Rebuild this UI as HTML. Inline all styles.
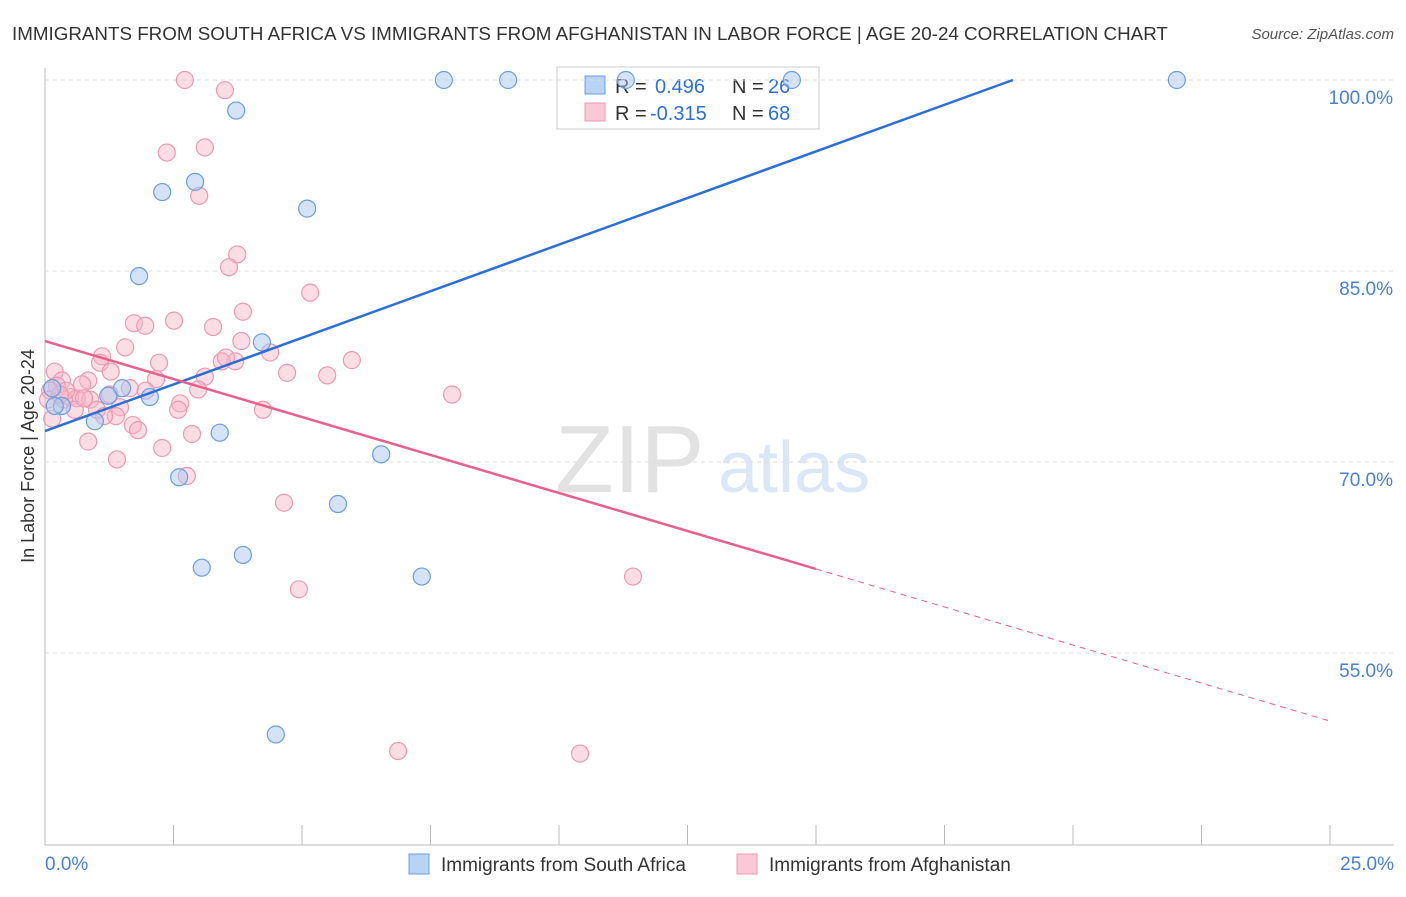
<!DOCTYPE html>
<html><head><meta charset="utf-8"><style>
body{margin:0;background:#fff;font-family:"Liberation Sans",sans-serif}
svg text{font-family:"Liberation Sans",sans-serif}
</style></head><body>
<svg id="c" width="1406" height="892" xmlns="http://www.w3.org/2000/svg">
<text x="12" y="40" font-size="18.8" fill="#333">IMMIGRANTS FROM SOUTH AFRICA VS IMMIGRANTS FROM AFGHANISTAN IN LABOR FORCE | AGE 20-24 CORRELATION CHART</text>
<text x="1394" y="39" font-size="15" fill="#555" text-anchor="end" font-style="italic">Source: ZipAtlas.com</text>
<text x="34" y="456" font-size="18" fill="#333" text-anchor="middle" transform="rotate(-90 34 456)">In Labor Force | Age 20-24</text>
<text x="555" y="492" font-size="96" fill="#e2e2e2" font-family="Liberation Serif">ZIP</text>
<text x="718" y="492" font-size="72" fill="#dbe7f6">atlas</text>
<g>
<rect x="557" y="67" width="262" height="62" fill="#fff" stroke="#ccc"/>
<rect x="585" y="76" width="20" height="18" fill="#b9d3f5" stroke="#6c9ee0"/>
<rect x="585" y="103" width="20" height="18" fill="#fbc8d7" stroke="#eb9ab2"/>
<text x="615" y="93" font-size="20" fill="#333">R =</text>
<text x="655" y="93" font-size="20" fill="#2c6fd6">0.496</text>
<text x="732" y="93" font-size="20" fill="#333">N =</text>
<text x="768" y="93" font-size="20" fill="#2c6fd6">26</text>
<text x="615" y="120" font-size="20" fill="#333">R =</text>
<text x="650" y="120" font-size="20" fill="#2c6fd6">-0.315</text>
<text x="732" y="120" font-size="20" fill="#333">N =</text>
<text x="768" y="120" font-size="20" fill="#2c6fd6">68</text>
</g>
<g id="grid"></g><g id="pts"></g><g id="lines"></g>
<g>
<rect x="409" y="854" width="20" height="20" fill="#b9d3f5" stroke="#6c9ee0"/>
<text x="441" y="871" font-size="19" fill="#333">Immigrants from South Africa</text>
<rect x="737" y="854" width="20" height="20" fill="#fbc8d7" stroke="#eb9ab2"/>
<text x="769" y="871" font-size="19" fill="#333">Immigrants from Afghanistan</text>
</g>
</svg>
<script>
const yTicks=[100,85,70,55];
const xLabels=["0.0%","25.0%"];
const blueX=[7.76,9.01,11.30,14.53,22.02,3.72,2.28,2.92,5.10,1.83,4.22,1.50,2.04,1.23,0.33,0.14,0.97,3.40,6.54,2.61,5.70,3.85,3.05,7.33,4.49,0.19];
const blueY=[100,100,100,100,100,97.6,91.2,92.0,89.9,84.6,79.4,75.8,75.1,75.2,74.4,75.8,73.2,72.3,70.6,68.8,66.7,62.7,61.7,61.0,48.6,74.4];
const pinkX=[2.72,3.50,2.37,3.11,3.00,3.74,3.58,3.85,5.16,1.73,1.95,2.51,3.27,3.82,4.38,5.97,5.49,4.71,2.22,1.56,1.11,1.07,1.28,0.19,3.70,3.44,3.11,2.98,2.16,1.65,0.84,0.72,0.33,0.23,0.10,0.49,0.62,0.88,1.01,1.46,4.24,2.63,2.59,1.38,1.15,1.71,1.81,0.14,2.86,0.84,2.28,1.40,2.76,4.65,4.94,11.44,7.92,6.87,10.41,0.37,0.58,1.26,0.06,0.41,0.76,1.96,3.52,0.29];
const pinkY=[100,99.2,94.3,94.7,90.9,86.3,85.3,81.8,83.3,80.9,80.7,81.1,80.6,79.5,78.6,78.0,76.8,77.0,77.8,79.0,78.3,77.8,77.1,77.1,77.9,77.9,76.7,75.7,76.5,75.8,76.4,76.1,76.4,76.0,75.6,75.1,75.0,74.9,74.1,74.3,74.1,74.6,74.1,73.6,73.6,72.9,72.5,73.4,72.2,71.6,71.1,70.2,68.9,66.8,60.0,61.0,75.3,47.3,47.1,74.9,74.1,75.3,74.9,75.6,75.0,75.6,78.2,75.3];
const blueLine=[[0,72.43],[18.83,100]];
const pinkLine=[[0,79.5],[15.0,61.6],[25,49.65]];
const X=v=>45+v*51.4, Y=v=>80+(100-v)*12.733;
const NS="http://www.w3.org/2000/svg";
function mk(t,a,p){const e=document.createElementNS(NS,t);for(const k in a)e.setAttribute(k,a[k]);p.appendChild(e);return e;}
const g=document.getElementById('grid');
mk('line',{x1:45,y1:68,x2:45,y2:845,stroke:'#bbb'},g);
mk('line',{x1:45,y1:845,x2:1394,y2:845,stroke:'#bbb'},g);
for(let i=0;i<=10;i++){const t=mk('line',{x1:X(i*2.5),y1:825,x2:X(i*2.5),y2:845,stroke:'#bbb'},g);

}
yTicks.forEach(v=>{mk('line',{x1:45,y1:Y(v),x2:1394,y2:Y(v),stroke:'#ddd','stroke-dasharray':'4,4'},g);
const t=mk('text',{x:1393,y:Y(v)+24,'font-size':19,fill:'#4a7fd8','text-anchor':'end'},g);t.textContent=v.toFixed(1)+'%';

});
[[0,'start',45],[25,'end',1394]].forEach((d,i)=>{const t=mk('text',{x:d[2],y:870,'font-size':19,fill:'#4a7fd8','text-anchor':d[1]},g);t.textContent=xLabels[i];

});
const p=document.getElementById('pts');
pinkX.forEach((x,i)=>{const c=mk('circle',{cx:X(x),cy:Y(pinkY[i]),r:8.5,fill:'rgba(248,180,200,0.45)',stroke:'#eb9ab2','stroke-width':1.2},p);

});
blueX.forEach((x,i)=>{const c=mk('circle',{cx:X(x),cy:Y(blueY[i]),r:8.5,fill:'rgba(170,200,240,0.5)',stroke:'#6c9ee0','stroke-width':1.2},p);

});
const l=document.getElementById('lines');
const bl=mk('line',{x1:X(blueLine[0][0]),y1:Y(blueLine[0][1]),x2:X(blueLine[1][0]),y2:Y(blueLine[1][1]),stroke:'#2c6fd6','stroke-width':2.5},l);


const pl=mk('line',{x1:X(pinkLine[0][0]),y1:Y(pinkLine[0][1]),x2:X(pinkLine[1][0]),y2:Y(pinkLine[1][1]),stroke:'#e8608c','stroke-width':2.5},l);


const pd=mk('line',{x1:X(pinkLine[1][0]),y1:Y(pinkLine[1][1]),x2:X(pinkLine[2][0]),y2:Y(pinkLine[2][1]),stroke:'#e8608c','stroke-width':1,'stroke-dasharray':'6,5'},l);


</script>
</body></html>
